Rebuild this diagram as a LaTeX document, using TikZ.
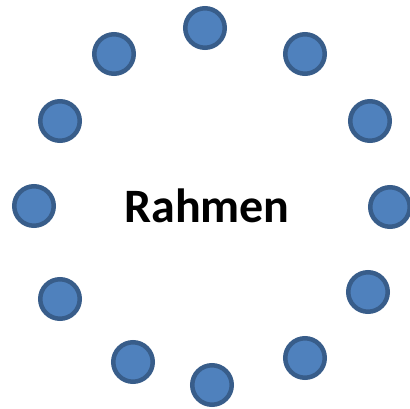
\documentclass[tikz,border=0pt]{standalone}
\usepackage{fontspec}
\setmainfont{Carlito}
\definecolor{dotfill}{RGB}{79, 129, 189}
\definecolor{dotline}{RGB}{56, 93, 138}

\begin{document}
\begin{tikzpicture}[x=1pt, y=-1pt,
    dot/.style={circle, fill=dotfill, draw=dotline, line width=4.5pt, minimum size=39.5pt, inner sep=0pt}]
        \useasboundingbox (0,0) rectangle (410,408);
        \foreach \x/\y [count=\i] in {205/28, 305/54, 370/121, 390/207, 368/292, 305/358,
                                      212/385, 133/362, 60/299, 34/206, 60/121, 114/54}
          \node[dot] (d\i) at (\x,\y) {};
        \node[anchor=base, font=\fontsize{48}{58}\selectfont\bfseries, inner sep=0pt] (title) at (207,222.5) {Rahmen};
      \end{tikzpicture}
\end{document}
